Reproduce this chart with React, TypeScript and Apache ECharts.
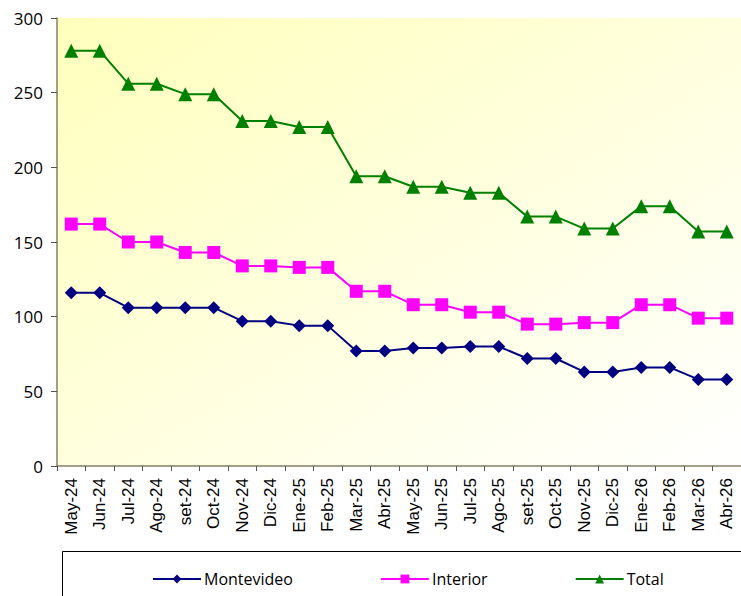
import React, { useEffect, useRef } from "react";
import * as echarts from "echarts";

const categories = [
  "May-24", "Jun-24", "Jul-24", "Ago-24", "set-24", "Oct-24", "Nov-24", "Dic-24",
  "Ene-25", "Feb-25", "Mar-25", "Abr-25", "May-25", "Jun-25", "Jul-25", "Ago-25",
  "set-25", "Oct-25", "Nov-25", "Dic-25", "Ene-26", "Feb-26", "Mar-26", "Abr-26",
];
const montevideo = [116, 116, 106, 106, 106, 106, 97, 97, 94, 94, 77, 77, 79, 79, 80, 80, 72, 72, 63, 63, 66, 66, 58, 58];
const interior = [162, 162, 150, 150, 143, 143, 134, 134, 133, 133, 117, 117, 108, 108, 103, 103, 95, 95, 96, 96, 108, 108, 99, 99];
const total = [278, 278, 256, 256, 249, 249, 231, 231, 227, 227, 194, 194, 187, 187, 183, 183, 167, 167, 159, 159, 174, 174, 157, 157];

export default function App() {
  const ref = useRef<HTMLDivElement>(null);
  useEffect(() => {
    if (!ref.current) return;
    const chart = echarts.init(ref.current, null, { renderer: "svg" });
    const axisColor = "#808066";
    chart.setOption({
      animation: false,
      backgroundColor: "#ffffff",
      grid: {
        left: 57,
        top: 18,
        right: -7,
        bottom: 130,
        show: true,
        borderWidth: 0,
        backgroundColor: new echarts.graphic.LinearGradient(0, 0, 1, 1, [
          { offset: 0, color: "#FFFFBC" },
          { offset: 1, color: "#FFFFFF" },
        ]),
      },
      xAxis: {
        type: "category",
        data: categories,
        boundaryGap: true,
        axisLine: { lineStyle: { color: axisColor, width: 1.5 } },
        axisTick: { show: true, length: 5, interval: 0, lineStyle: { color: "#555555" } },
        axisLabel: {
          interval: 0,
          rotate: 90,
          color: "#000000",
          fontFamily: "Liberation Sans, Arial",
          fontSize: 17,
          margin: 12,
        },
        splitLine: { show: false },
      },
      yAxis: {
        type: "value",
        min: 0,
        max: 300,
        interval: 50,
        axisLine: { show: true, lineStyle: { color: axisColor, width: 1.5 } },
        axisTick: { show: true, length: 6, lineStyle: { color: "#555555" } },
        axisLabel: {
          color: "#000000",
          fontFamily: "Open Sans, Lato, sans-serif",
          fontSize: 17,
          margin: 14,
        },
        splitLine: { show: false },
      },
      legend: {
        left: 147,
        top: 566,
        itemGap: 87,
        itemWidth: 48,
        itemHeight: 11,
        textStyle: {
          color: "#000000",
          fontFamily: "Open Sans, Lato, sans-serif",
          fontSize: 16,
          padding: [0, 0, 0, -2],
        },
        data: ["Montevideo", "Interior", "Total"],
      },
      graphic: [
        {
          type: "rect",
          shape: { x: 62.5, y: 551.5, width: 700, height: 60 },
          style: { fill: "none", stroke: "#000000", lineWidth: 1 },
          silent: true,
        },
      ],
      series: [
        {
          name: "Montevideo",
          type: "line",
          data: montevideo,
          symbol: "diamond",
          symbolSize: 13,
          lineStyle: { color: "#000080", width: 2 },
          itemStyle: { color: "#000080" },
        },
        {
          name: "Interior",
          type: "line",
          data: interior,
          symbol: "rect",
          symbolSize: 13,
          lineStyle: { color: "#FF00FF", width: 2 },
          itemStyle: { color: "#FF00FF" },
        },
        {
          name: "Total",
          type: "line",
          data: total,
          symbol: "triangle",
          symbolSize: 14,
          lineStyle: { color: "#008000", width: 2 },
          itemStyle: { color: "#008000" },
        },
      ],
    });
    return () => chart.dispose();
  }, []);
  return (
    <div
      ref={ref}
      style={{ position: "fixed", left: 0, top: 0, width: 741, height: 596 }}
    />
  );
}
